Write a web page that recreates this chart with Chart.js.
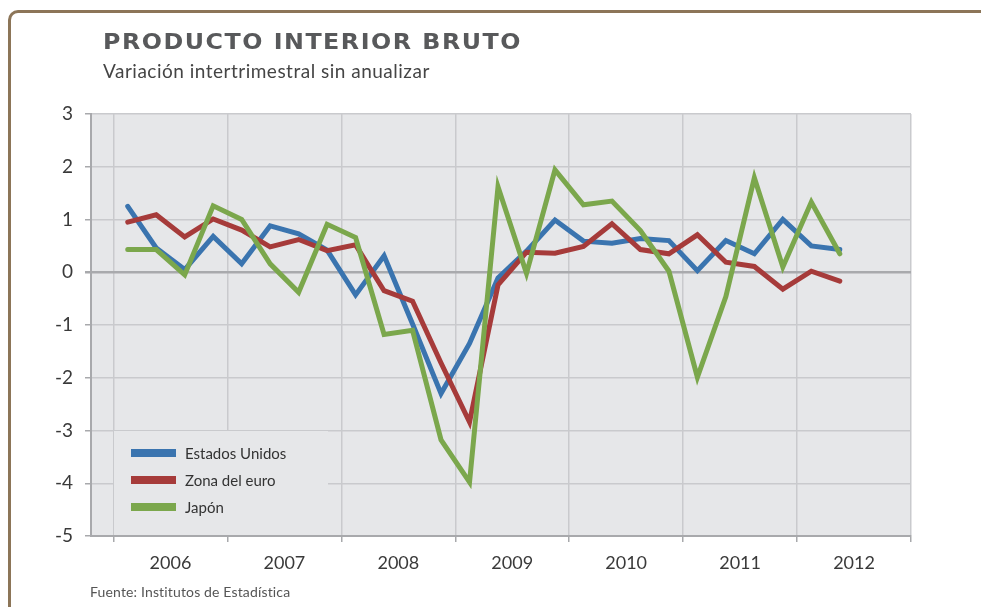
<!DOCTYPE html>
<meta charset="utf-8">
<style>
	html, body { margin: 0; padding: 0; width: 981px; height: 607px; overflow: hidden; background: #fff; }
	#frame { position: absolute; left: 8px; top: 10px; width: 1100px; height: 800px;
		border-top: 3px solid #8c7558; border-left: 3px solid #8c7558; border-top-left-radius: 10px; }
	#title { position: absolute; left: 103px; top: 31px; font: bold 22px "DejaVu Sans"; line-height: 22px;
		letter-spacing: 1.4px; color: #58595b; white-space: nowrap; transform: scaleX(1.08); transform-origin: 0 0; }
	#subtitle { position: absolute; left: 103px; top: 61px; font: 19px Lato; line-height: 19px; letter-spacing: 0.5px;
		color: #454545; white-space: nowrap; }
	#source { position: absolute; left: 90px; top: 585px; font: 14px Lato; line-height: 14px; letter-spacing: 0.15px;
		color: #555; white-space: nowrap; }
	#container { position: absolute; left: 0; top: 0; width: 981px; height: 607px; }
</style>
<body>
	<script src="https://cdn.jsdelivr.net/npm/chart.js@4/dist/chart.umd.min.js"></script>

	<div id="frame"></div>
	<div id="container"><canvas id="gdpChart"></canvas></div>
	<div id="title">PRODUCTO INTERIOR BRUTO</div>
	<div id="subtitle">Variación intertrimestral sin anualizar</div>
	<div id="source">Fuente: Institutos de Estadística</div>

	<script>
		// quarters 2006-T1 .. 2012-T2
		var years = ["2006", "2007", "2008", "2009", "2010", "2011", "2012"];
		var quarters = [];
		for (var y = 2006; y <= 2012; y++) {
			for (var q = 1; q <= 4; q++) {
				if (y == 2012 && q > 2) break;
				quarters.push(y + "-T" + q);
			}
		}

		var estadosUnidos = [1.25, 0.46, 0.05, 0.68, 0.16, 0.88, 0.73, 0.42, -0.43, 0.31, -0.98, -2.30, -1.35,
			-0.11, 0.40, 0.99, 0.59, 0.55, 0.64, 0.60, 0.03, 0.60, 0.35, 1.00, 0.50, 0.43];
		var zonaEuro = [0.95, 1.09, 0.67, 1.01, 0.80, 0.48, 0.62, 0.41, 0.52, -0.35, -0.55, -1.72, -2.84,
			-0.24, 0.38, 0.36, 0.49, 0.92, 0.43, 0.35, 0.71, 0.19, 0.11, -0.32, 0.02, -0.17];
		var japon = [0.43, 0.43, -0.05, 1.26, 1.00, 0.16, -0.38, 0.91, 0.66, -1.18, -1.10, -3.18, -3.98,
			1.62, -0.02, 1.94, 1.28, 1.35, 0.79, 0.02, -1.99, -0.46, 1.79, 0.10, 1.33, 0.35];

		var yTicks = [3, 2, 1, 0, -1, -2, -3, -4, -5];

		var plotBg = "#e6e7e9";
		var gridColor = "#c9cacd";
		var axisColor = "#a8a9ac";

		function toPoints(values) {
			return values.map(function(v, i) { return {x: i, y: v}; });
		}

		// plot background
		var bgPlugin = {
			id: "plotBg",
			beforeDraw: function(chart) {
				var a = chart.chartArea, ctx = chart.ctx;
				ctx.save();
				ctx.fillStyle = plotBg;
				ctx.fillRect(a.left, a.top, a.right - a.left, a.bottom - a.top);
				ctx.restore();
			}
		};

		// legend box sitting inside the plot, over the grid
		var legendPlugin = {
			id: "innerLegend",
			beforeDatasetsDraw: function(chart) {
				var a = chart.chartArea, ctx = chart.ctx;
				var x0 = a.left + 23, y0 = a.bottom - 105;
				ctx.save();
				ctx.fillStyle = plotBg;
				ctx.fillRect(x0, y0, 214, 104);
				ctx.font = "15px Lato";
				ctx.textBaseline = "middle";
				[0, 1, 2].forEach(function(k) {
					var ds = chart.data.datasets[k];
					var cy = y0 + 22 + k * 27;
					ctx.fillStyle = ds.borderColor;
					ctx.fillRect(x0 + 17, cy - 4, 45, 8);
					ctx.fillStyle = "#333";
					ctx.fillText(ds.label, x0 + 71, cy + 1);
				});
				ctx.restore();
			}
		};

		Chart.defaults.font.family = "Lato";

		var ctxGdp = document.getElementById("gdpChart");
		var myChart = new Chart(ctxGdp, {
			type: "line",
			data: {
				datasets: [{
					label: "Estados Unidos",
					data: toPoints(estadosUnidos),
					borderColor: "#3a74af",
					order: 2
				}, {
					label: "Zona del euro",
					data: toPoints(zonaEuro),
					borderColor: "#a63b3a",
					order: 1
				}, {
					label: "Japón",
					data: toPoints(japon),
					borderColor: "#7ba74c",
					order: 0
				}]
			},
			options: {
				responsive: true,
				maintainAspectRatio: false,
				animation: false,
				layout: { padding: { top: 114, right: 70, left: 0, bottom: 0 } },
				elements: {
					line: { borderWidth: 5, tension: 0, borderCapStyle: "round", borderJoinStyle: "miter", fill: false },
					point: { radius: 0 }
				},
				plugins: {
					legend: { display: false },
					tooltip: { enabled: false }
				},
				scales: {
					x: {
						type: "linear",
						min: -1.29,
						max: 27.5,
						afterBuildTicks: function(scale) {
							var t = [];
							for (var k = 0; k <= years.length; k++) {
								t.push({value: 4 * k - 0.5});
								if (k < years.length) t.push({value: 4 * k + 1.5});
							}
							scale.ticks = t;
						},
						afterFit: function(scale) { scale.height = 71; },
						grid: {
							color: function(c) {
								if (!c.tick) return "transparent";
								return ((c.tick.value + 0.5) % 4 === 0) ? gridColor : "transparent";
							},
							tickColor: function(c) {
								if (!c.tick) return "transparent";
								return ((c.tick.value + 0.5) % 4 === 0) ? axisColor : "transparent";
							},
							lineWidth: 1.5,
							tickLength: 6
						},
						border: { color: axisColor, width: 2 },
						ticks: {
							autoSkip: false,
							maxRotation: 0,
							padding: 10,
							color: "#3a3a3a",
							font: { size: 18 },
							callback: function(v) {
								var k = (v - 1.5) / 4;
								return (Number.isInteger(k) && years[k]) ? years[k] : "";
							}
						}
					},
					y: {
						min: -5,
						max: 3,
						afterBuildTicks: function(scale) {
							scale.ticks = yTicks.map(function(v) { return {value: v}; });
						},
						afterFit: function(scale) { scale.width = 91; },
						grid: {
							color: function(c) { return (c.tick && c.tick.value === 0) ? "#a9aaad" : gridColor; },
							lineWidth: function(c) { return (c.tick && c.tick.value === 0) ? 2.5 : 1.5; },
							tickColor: axisColor,
							tickLength: 6
						},
						border: { color: axisColor, width: 2 },
						ticks: {
							padding: 12,
							color: "#3a3a3a",
							font: { size: 19 }
						}
					}
				}
			},
			plugins: [bgPlugin, legendPlugin]
		});
	</script>
</body>
